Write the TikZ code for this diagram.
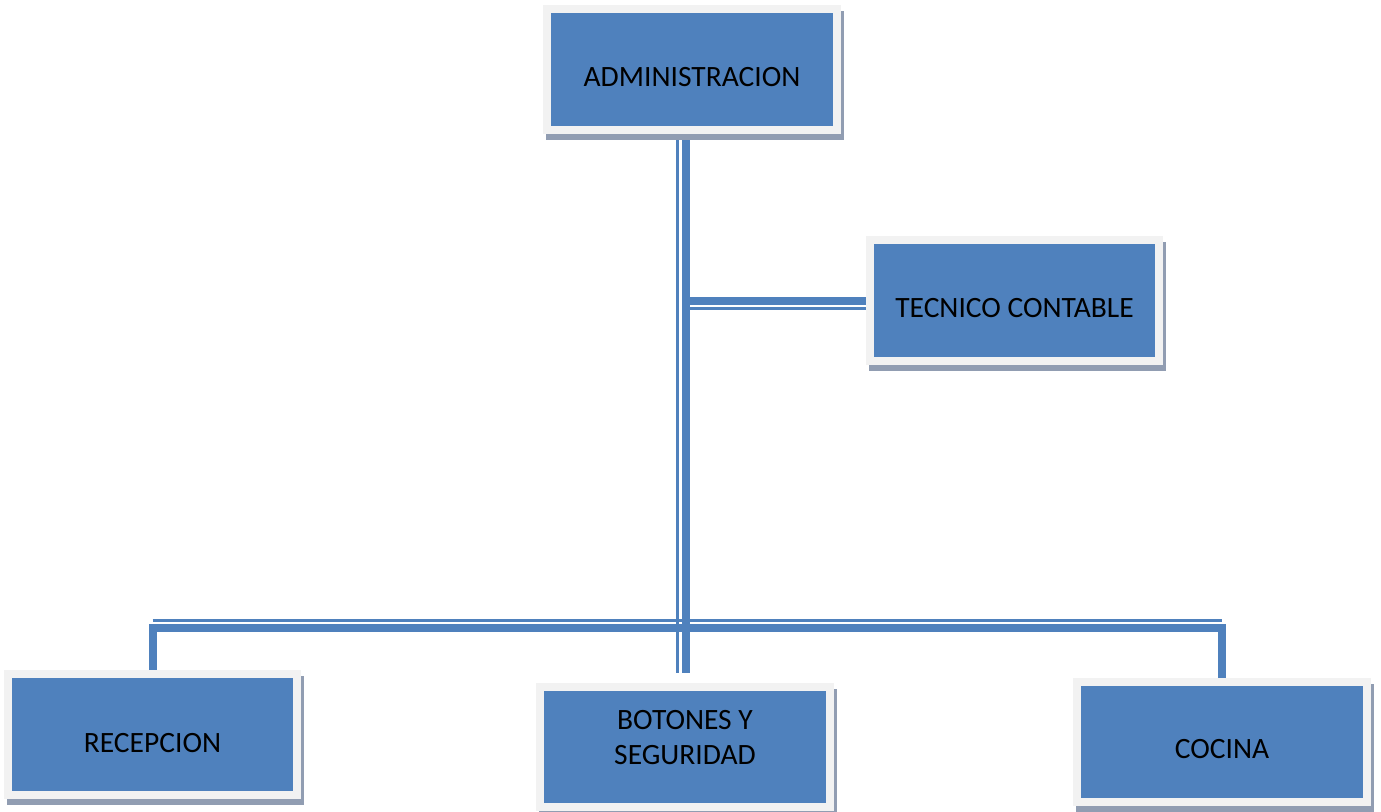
\documentclass[tikz,border=0pt]{standalone}
\usepackage{fontspec}
\setmainfont{Carlito}
\usetikzlibrary{calc}
\definecolor{boxblue}{RGB}{79,129,189}
\definecolor{framegray}{RGB}{242,242,242}
\definecolor{shadowc}{RGB}{145,157,178}
\pgfdeclarelayer{bg}
\pgfsetlayers{bg,main}
\newcommand{\shifttext}[2]{\raisebox{#1}[\height][\depth]{#2}}
\begin{document}
\begin{tikzpicture}[x=1pt,y=-1pt,
  orgbox/.style={rectangle, draw=framegray, line width=8pt, fill=boxblue,
    minimum width=290pt, minimum height=121pt, inner sep=0pt,
    font=\fontsize{29.5}{35}\selectfont, text=black,
    preaction={draw=shadowc, fill=shadowc, line width=8pt,
      transform canvas={xshift=3pt,yshift=-5.5pt}}},
  thickline/.style={draw=boxblue, line width=8pt, line join=miter},
  thinline/.style={draw=boxblue, line width=3pt}]
\useasboundingbox (0,0) rectangle (1381,811);

\node[orgbox] (adm) at (692,69.5) {\shifttext{-8pt}{ADMINISTRACION}};
\node[orgbox, minimum width=289pt] (tec) at (1014.5,300.5) {\shifttext{-7.5pt}{TECNICO CONTABLE}};
\node[orgbox, minimum width=289pt] (rec) at (152.5,734.5) {\shifttext{-8.5pt}{RECEPCION}};
\node[orgbox, minimum height=120pt] (bot) at (685,747) {\shifttext{7.5pt}{\begin{tabular}{@{}c@{}}BOTONES Y\\SEGURIDAD\end{tabular}}};
\node[orgbox, minimum height=120pt] (coc) at (1222,742) {\shifttext{-7.5pt}{COCINA}};

\coordinate (trunkT) at ($(adm.south)+(-6,0)$);
\coordinate (trunkB) at (686,673);
\coordinate (bar) at (686,628);

\begin{pgfonlayer}{bg}
  % bottom bar
  \draw[thickline] (rec.north) -- (rec.north |- bar) -- (coc.north |- bar) -- (coc.north);
  \draw[thinline] ($(rec.north |- bar)+(0,-7.5)$) -- ($(coc.north |- bar)+(0,-7.5)$);
  % branch to tecnico
  \draw[thickline] ($(trunkT |- tec.west)+(4,0)$) -- (tec.west);
  \draw[thinline] ($(trunkT |- tec.west)+(4,8)$) -- ($(tec.west)+(0,8)$);
  % trunk
  \draw[thickline] (trunkT) -- (trunkB);
  \draw[thinline] ($(trunkT)+(-8.5,0)$) -- ($(trunkB)+(-8.5,0)$);
\end{pgfonlayer}
\end{tikzpicture}
\end{document}
